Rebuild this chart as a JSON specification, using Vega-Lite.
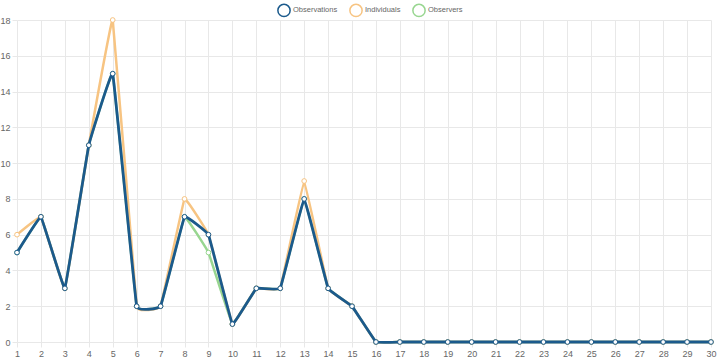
{
  "$schema": "https://vega.github.io/schema/vega-lite/v6.json",
  "autosize": "none",
  "width": 694,
  "height": 322,
  "padding": {"left": 17, "top": 20, "right": 9, "bottom": 18},
  "background": "white",
  "datasets": {
    "rows": [
      {"day": 1, "series": "Observations", "value": 5},
      {"day": 2, "series": "Observations", "value": 7},
      {"day": 3, "series": "Observations", "value": 3},
      {"day": 4, "series": "Observations", "value": 11},
      {"day": 5, "series": "Observations", "value": 15},
      {"day": 6, "series": "Observations", "value": 2},
      {"day": 7, "series": "Observations", "value": 2},
      {"day": 8, "series": "Observations", "value": 7},
      {"day": 9, "series": "Observations", "value": 6},
      {"day": 10, "series": "Observations", "value": 1},
      {"day": 11, "series": "Observations", "value": 3},
      {"day": 12, "series": "Observations", "value": 3},
      {"day": 13, "series": "Observations", "value": 8},
      {"day": 14, "series": "Observations", "value": 3},
      {"day": 15, "series": "Observations", "value": 2},
      {"day": 16, "series": "Observations", "value": 0},
      {"day": 17, "series": "Observations", "value": 0},
      {"day": 18, "series": "Observations", "value": 0},
      {"day": 19, "series": "Observations", "value": 0},
      {"day": 20, "series": "Observations", "value": 0},
      {"day": 21, "series": "Observations", "value": 0},
      {"day": 22, "series": "Observations", "value": 0},
      {"day": 23, "series": "Observations", "value": 0},
      {"day": 24, "series": "Observations", "value": 0},
      {"day": 25, "series": "Observations", "value": 0},
      {"day": 26, "series": "Observations", "value": 0},
      {"day": 27, "series": "Observations", "value": 0},
      {"day": 28, "series": "Observations", "value": 0},
      {"day": 29, "series": "Observations", "value": 0},
      {"day": 30, "series": "Observations", "value": 0},
      {"day": 1, "series": "Individuals", "value": 6},
      {"day": 2, "series": "Individuals", "value": 7},
      {"day": 3, "series": "Individuals", "value": 3},
      {"day": 4, "series": "Individuals", "value": 11},
      {"day": 5, "series": "Individuals", "value": 18},
      {"day": 6, "series": "Individuals", "value": 2},
      {"day": 7, "series": "Individuals", "value": 2},
      {"day": 8, "series": "Individuals", "value": 8},
      {"day": 9, "series": "Individuals", "value": 6},
      {"day": 10, "series": "Individuals", "value": 1},
      {"day": 11, "series": "Individuals", "value": 3},
      {"day": 12, "series": "Individuals", "value": 3},
      {"day": 13, "series": "Individuals", "value": 9},
      {"day": 14, "series": "Individuals", "value": 3},
      {"day": 15, "series": "Individuals", "value": 2},
      {"day": 16, "series": "Individuals", "value": 0},
      {"day": 17, "series": "Individuals", "value": 0},
      {"day": 18, "series": "Individuals", "value": 0},
      {"day": 19, "series": "Individuals", "value": 0},
      {"day": 20, "series": "Individuals", "value": 0},
      {"day": 21, "series": "Individuals", "value": 0},
      {"day": 22, "series": "Individuals", "value": 0},
      {"day": 23, "series": "Individuals", "value": 0},
      {"day": 24, "series": "Individuals", "value": 0},
      {"day": 25, "series": "Individuals", "value": 0},
      {"day": 26, "series": "Individuals", "value": 0},
      {"day": 27, "series": "Individuals", "value": 0},
      {"day": 28, "series": "Individuals", "value": 0},
      {"day": 29, "series": "Individuals", "value": 0},
      {"day": 30, "series": "Individuals", "value": 0},
      {"day": 1, "series": "Observers", "value": 5},
      {"day": 2, "series": "Observers", "value": 7},
      {"day": 3, "series": "Observers", "value": 3},
      {"day": 4, "series": "Observers", "value": 11},
      {"day": 5, "series": "Observers", "value": 15},
      {"day": 6, "series": "Observers", "value": 2},
      {"day": 7, "series": "Observers", "value": 2},
      {"day": 8, "series": "Observers", "value": 7},
      {"day": 9, "series": "Observers", "value": 5},
      {"day": 10, "series": "Observers", "value": 1},
      {"day": 11, "series": "Observers", "value": 3},
      {"day": 12, "series": "Observers", "value": 3},
      {"day": 13, "series": "Observers", "value": 8},
      {"day": 14, "series": "Observers", "value": 3},
      {"day": 15, "series": "Observers", "value": 2},
      {"day": 16, "series": "Observers", "value": 0},
      {"day": 17, "series": "Observers", "value": 0},
      {"day": 18, "series": "Observers", "value": 0},
      {"day": 19, "series": "Observers", "value": 0},
      {"day": 20, "series": "Observers", "value": 0},
      {"day": 21, "series": "Observers", "value": 0},
      {"day": 22, "series": "Observers", "value": 0},
      {"day": 23, "series": "Observers", "value": 0},
      {"day": 24, "series": "Observers", "value": 0},
      {"day": 25, "series": "Observers", "value": 0},
      {"day": 26, "series": "Observers", "value": 0},
      {"day": 27, "series": "Observers", "value": 0},
      {"day": 28, "series": "Observers", "value": 0},
      {"day": 29, "series": "Observers", "value": 0},
      {"day": 30, "series": "Observers", "value": 0}
    ]
  },
  "data": {"name": "rows"},
  "config": {
    "view": {"stroke": null},
    "font": "Liberation Sans",
    "axis": {
      "labelFont": "Liberation Sans",
      "labelFontSize": 9,
      "labelColor": "#666666",
      "gridColor": "#e8e8e8",
      "gridWidth": 1,
      "domain": false,
      "tickColor": "#e8e8e8",
      "tickSize": 5,
      "title": null
    }
  },
  "encoding": {
    "x": {
      "field": "day",
      "type": "quantitative",
      "scale": {"domain": [1, 30], "nice": false, "zero": false},
      "axis": {"values": [1,2,3,4,5,6,7,8,9,10,11,12,13,14,15,16,17,18,19,20,21,22,23,24,25,26,27,28,29,30], "labelPadding": 2, "labelFlush": false, "labelOverlap": false}
    },
    "y": {
      "field": "value",
      "type": "quantitative",
      "scale": {"domain": [0, 18], "nice": false},
      "axis": {"values": [0,2,4,6,8,10,12,14,16,18], "tickSize": 5, "labelPadding": 2, "labelFlush": false}
    },
    "stroke": {
      "field": "series",
      "type": "nominal",
      "scale": {"domain": ["Observations", "Individuals", "Observers"], "range": ["#1b5a8c", "#f7c482", "#98d690"]},
      "legend": {
        "orient": "none",
        "direction": "horizontal",
        "legendX": 260,
        "legendY": -17,
        "title": null,
        "symbolType": "circle",
        "symbolSize": 150,
        "symbolFillColor": "white",
        "symbolStrokeWidth": 1.5,
        "labelFontSize": 7.5,
        "labelColor": "#666666",
        "labelFont": "Liberation Sans",
        "columnPadding": 8,
        "labelOffset": 2
      }
    }
  },
  "layer": [
    {"transform": [{"filter": "datum.series == 'Observers'"}], "mark": {"type": "line", "strokeWidth": 2.5, "interpolate": "cardinal", "tension": 0.85}},
    {"transform": [{"filter": "datum.series == 'Observers'"}], "mark": {"type": "point", "filled": true, "fill": "white", "size": 22, "strokeWidth": 1, "opacity": 1}},
    {"transform": [{"filter": "datum.series == 'Individuals'"}], "mark": {"type": "line", "strokeWidth": 2.5, "interpolate": "cardinal", "tension": 0.85}},
    {"transform": [{"filter": "datum.series == 'Individuals'"}], "mark": {"type": "point", "filled": true, "fill": "white", "size": 22, "strokeWidth": 1, "opacity": 1}},
    {"transform": [{"filter": "datum.series == 'Observations'"}], "mark": {"type": "line", "strokeWidth": 2.8, "interpolate": "cardinal", "tension": 0.85}},
    {"transform": [{"filter": "datum.series == 'Observations'"}], "mark": {"type": "point", "filled": true, "fill": "white", "size": 22, "strokeWidth": 1, "opacity": 1}}
  ]
}
